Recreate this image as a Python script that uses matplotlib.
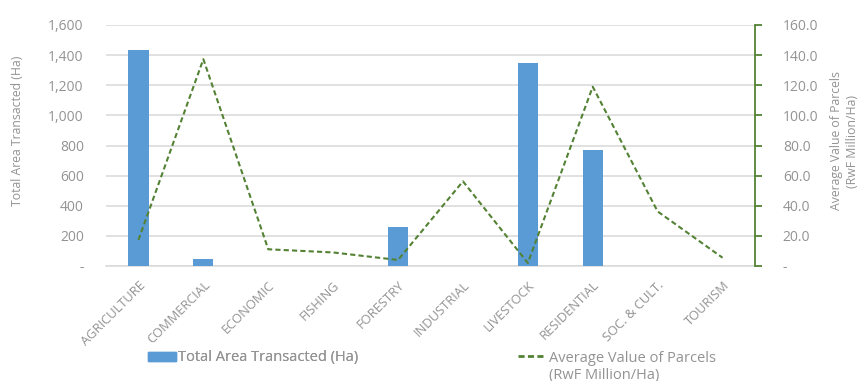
import matplotlib
matplotlib.use("Agg")
import matplotlib.pyplot as plt
from matplotlib.ticker import FuncFormatter
from matplotlib.lines import Line2D
from matplotlib.patches import Patch

categories = ["AGRICULTURE", "COMMERCIAL", "ECONOMIC", "FISHING", "FORESTRY",
              "INDUSTRIAL", "LIVESTOCK", "RESIDENTIAL", "SOC. & CULT.", "TOURISM"]
area_ha = [1435, 45, 0, 0, 258, 0, 1345, 767, 0, 0]
avg_value = [17.3, 137.3, 11.1, 9.0, 4.0, 56.2, 2.0, 119.0, 36.2, 5.5]

plt.rcParams['font.family'] = ['Open Sans', 'DejaVu Sans']
txt = '#939393'
grid_c = '#d9d9d9'
bar_c = '#5B9BD5'
line_c = '#548235'
dash = (0, (2.5, 1.5))

W, H = 861, 381
fig = plt.figure(figsize=(W / 100, H / 100), dpi=100)
ax = fig.add_axes([106 / W, 1 - 266 / H, (755 - 106) / W, (266 - 25) / H])
x = list(range(len(categories)))
ax.bar(x, area_ha, width=0.31, color=bar_c, zorder=3)
ax.set_xlim(-0.5, len(categories) - 0.5)
ax.set_ylim(0, 1600)
ax.set_yticks(range(0, 1601, 200))
ax.yaxis.set_major_formatter(FuncFormatter(lambda v, p: '-' if v == 0 else f'{int(v):,}'))
ax.grid(axis='y', color=grid_c, linewidth=1.1, zorder=0)
ax.set_axisbelow(True)
for s in ['top', 'right', 'left']:
    ax.spines[s].set_visible(False)
ax.spines['bottom'].set_color(grid_c)
ax.spines['bottom'].set_linewidth(1.1)
ax.tick_params(axis='y', length=0, labelsize=10, labelcolor=txt, pad=16)
ax.tick_params(axis='x', length=0, labelsize=9.3, labelcolor=txt, pad=9)
ax.set_xticks(x)
ax.set_xticklabels(categories, rotation=45, ha='right', va='top', rotation_mode='anchor')
ax.set_ylabel('Total Area Transacted (Ha)', color=txt, fontsize=8.8, va='center')
ax.yaxis.set_label_coords(-88 / (755 - 106), (266 - 131) / 241)

ax2 = ax.twinx()
ax2.plot(x, avg_value, color=line_c, linestyle=dash, linewidth=1.5, zorder=4)
ax2.set_ylim(0, 160)
ax2.set_yticks(range(0, 161, 20))
ax2.yaxis.set_major_formatter(FuncFormatter(lambda v, p: '-' if v == 0 else f'{v:.1f}'))
for s in ['top', 'left', 'bottom']:
    ax2.spines[s].set_visible(False)
ax2.spines['right'].set_color(line_c)
ax2.spines['right'].set_linewidth(1.3)
ax2.tick_params(axis='y', length=5, width=1.3, color=line_c, labelsize=10,
                labelcolor=txt, pad=15)
ax2.set_ylabel('Average Value of Parcels\n(RwF Million/Ha)', color=txt, fontsize=8.8,
               rotation=90, va='center', ha='center', linespacing=1.3)
ax2.yaxis.set_label_coords(1 + (844 - 755) / (755 - 106), (266 - 141) / 241)

fs_leg = 10.5
leg1 = fig.legend([Patch(color=bar_c)], ['Total Area Transacted (Ha)'],
                  loc='center left', bbox_to_anchor=(148 / W, 1 - 358 / H),
                  frameon=False, fontsize=fs_leg, labelcolor=txt,
                  handlelength=1.9, handleheight=0.6, handletextpad=0.15,
                  borderpad=0, borderaxespad=0)
fig.add_artist(leg1)
fig.legend([Line2D([0], [0], color=line_c, linestyle=(0, (2.2, 1.2)), linewidth=2)],
           ['Average Value of Parcels'],
           loc='center left', bbox_to_anchor=(518 / W, 1 - 358 / H),
           frameon=False, fontsize=fs_leg, labelcolor=txt,
           handlelength=1.85, handletextpad=0.27, borderpad=0, borderaxespad=0)
fig.text(549 / W, 1 - 375 / H, '(RwF Million/Ha)', fontsize=fs_leg, color=txt,
         ha='left', va='center')

fig.savefig('out.png', dpi=100)
